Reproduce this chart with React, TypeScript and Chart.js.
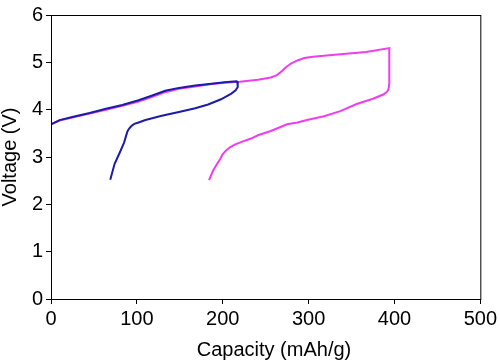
import React, { useEffect, useRef } from "react";
import { Chart, registerables } from "chart.js";

Chart.register(...registerables);

const xTicks = [0, 100, 200, 300, 400, 500];
const yTicks = [0, 1, 2, 3, 4, 5, 6];

const blueCapacity = [0, 10, 26, 45, 64, 83, 102, 118, 133, 149, 168, 187, 202, 216, 217, 217.5, 215, 210, 198, 183, 168, 149, 129, 110, 102, 97, 94, 91, 89, 87, 85, 80, 74, 69];
const blueVoltage = [3.69, 3.78, 3.85, 3.93, 4.02, 4.1, 4.2, 4.3, 4.4, 4.46, 4.51, 4.55, 4.58, 4.6, 4.59, 4.48, 4.41, 4.34, 4.22, 4.11, 4.03, 3.95, 3.87, 3.78, 3.73, 3.7, 3.66, 3.6, 3.54, 3.42, 3.3, 3.09, 2.85, 2.52];

const magentaCapacity = [0, 0, 10, 26, 45, 64, 83, 102, 118, 133, 149, 168, 187, 202, 220, 241, 256, 263, 268, 274, 280, 287, 295, 305, 337, 367, 394, 394, 393, 391, 387, 375, 356, 337, 318, 298, 287, 275, 256, 241, 233, 222, 214, 208, 204, 200, 197, 193, 189, 184];
const magentaVoltage = [2.97, 3.69, 3.77, 3.84, 3.92, 4.0, 4.08, 4.17, 4.27, 4.37, 4.44, 4.49, 4.54, 4.57, 4.59, 4.63, 4.68, 4.73, 4.8, 4.9, 4.98, 5.04, 5.09, 5.12, 5.17, 5.22, 5.3, 4.55, 4.43, 4.37, 4.32, 4.23, 4.12, 3.97, 3.86, 3.78, 3.73, 3.69, 3.55, 3.46, 3.39, 3.32, 3.26, 3.2, 3.14, 3.06, 2.96, 2.84, 2.72, 2.51];

const toPoints = (xs: number[], ys: number[]) => xs.map((x, i) => ({ x, y: ys[i] }));

const boxPlugin = {
  id: "box",
  afterDraw(chart: any) {
    const { ctx, chartArea } = chart;
    ctx.save();
    ctx.strokeStyle = "#000";
    ctx.lineWidth = 1;
    ctx.strokeRect(chartArea.left + 0.5, chartArea.top + 0.5, chartArea.right - chartArea.left, chartArea.bottom - chartArea.top);
    ctx.restore();
  },
};

export default function App() {
  const ref = useRef<HTMLCanvasElement | null>(null);
  useEffect(() => {
    document.body.style.margin = "0";
    const font = { family: "'Liberation Sans', Arial, sans-serif", size: 20 };
    const titleFont = { family: "'Liberation Sans', Arial, sans-serif", size: 20, lineHeight: 1 };
    const chart = new Chart(ref.current as HTMLCanvasElement, {
      type: "line",
      data: {
        datasets: [
          {
            data: toPoints(blueCapacity, blueVoltage),
            borderColor: "#1c1ca8",
            borderWidth: 2,
            pointRadius: 0,
            tension: 0,
            fill: false,
          },
          {
            data: toPoints(magentaCapacity, magentaVoltage),
            borderColor: "#f03cf0",
            borderWidth: 2,
            pointRadius: 0,
            tension: 0,
            fill: false,
          },
        ],
      },
      options: {
        animation: false,
        responsive: false,
        layout: { padding: { top: 7, right: 15, left: 0, bottom: 0 } },
        plugins: { legend: { display: false }, tooltip: { enabled: false } },
        scales: {
          x: {
            type: "linear",
            min: 0,
            max: 500,
            afterBuildTicks: (s: any) => { s.ticks = xTicks.map((v) => ({ value: v })); },
            afterFit: (s: any) => { s.height = 62; },
            grid: { display: true, drawOnChartArea: false, tickLength: 5, color: "#000" },
            border: { display: true, color: "#000" },
            ticks: { color: "#000", font, padding: 3, maxRotation: 0 },
            title: { display: true, text: "   Capacity (mAh/g)", color: "#000", font: titleFont, padding: { bottom: 1, top: 0 } },
          },
          y: {
            type: "linear",
            min: 0,
            max: 6,
            afterBuildTicks: (s: any) => { s.ticks = yTicks.map((v) => ({ value: v })); },
            afterFit: (s: any) => { s.width = 51; },
            grid: { display: true, drawOnChartArea: false, tickLength: 5, color: "#000" },
            border: { display: true, color: "#000" },
            ticks: { color: "#000", font, padding: 3 },
            title: { display: true, text: "Voltage (V)", color: "#000", font: titleFont, padding: { top: 0, bottom: 0 } },
          },
        },
      },
      plugins: [boxPlugin],
    });
    return () => chart.destroy();
  }, []);
  return <canvas ref={ref} width={500} height={361} style={{ display: "block" }} />;
}
